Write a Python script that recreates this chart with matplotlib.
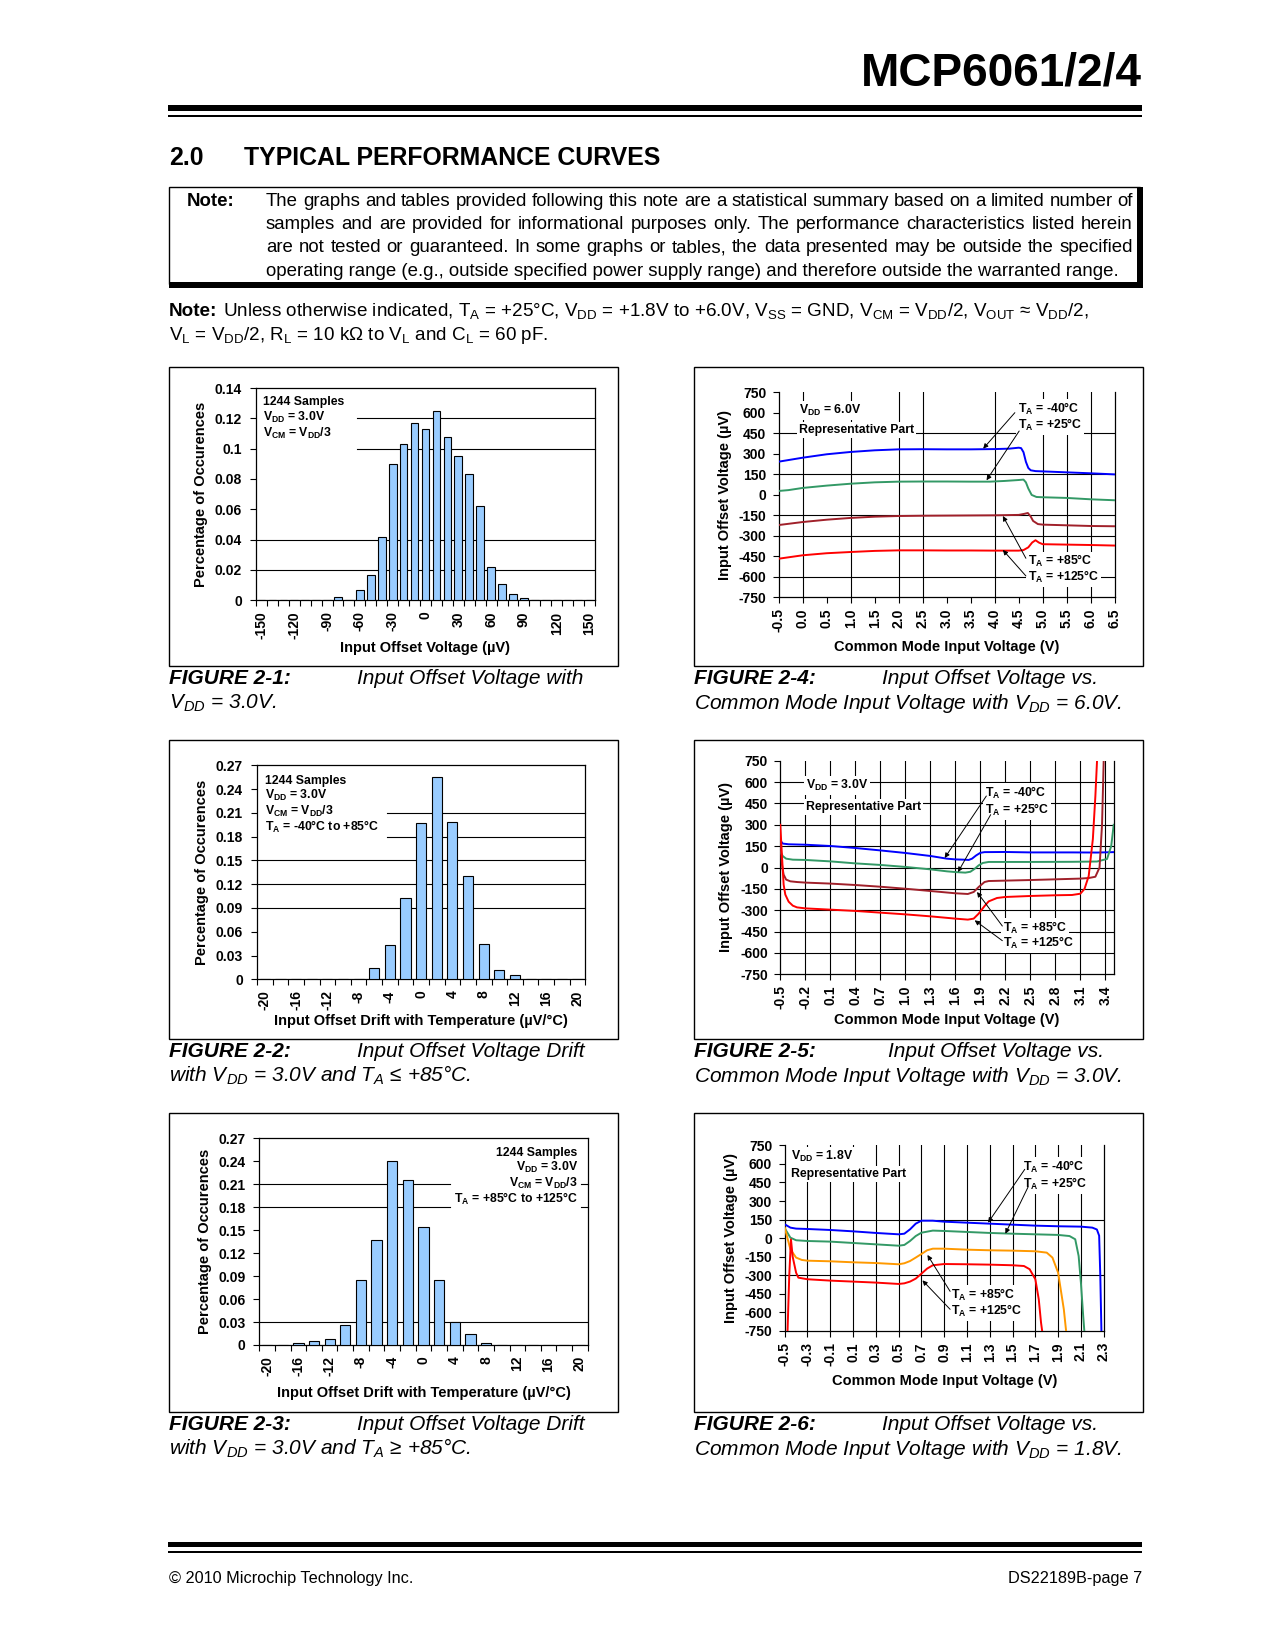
import numpy as np
import matplotlib
matplotlib.use('Agg')
import matplotlib.pyplot as plt
from matplotlib.patches import Rectangle

plt.rcParams['font.family'] = ['Liberation Sans', 'DejaVu Sans']
plt.rcParams['mathtext.fontset'] = 'custom'
plt.rcParams['mathtext.rm'] = 'Liberation Sans'
plt.rcParams['mathtext.it'] = 'Liberation Sans:italic'
plt.rcParams['mathtext.bf'] = 'Liberation Sans:bold'
plt.rcParams['axes.unicode_minus'] = False
plt.rcParams['axes.linewidth'] = 0.9

# ======================= DATA =======================
# Figure 2-1 : histogram of input offset voltage
h1_bins = list(range(-150, 151, 10))
h1_vals = [0, 0, 0, 0, 0, 0, 0, 0.002, 0, 0.007, 0.0165, 0.042, 0.090, 0.103, 0.117,
           0.113, 0.125, 0.108, 0.095, 0.083, 0.062, 0.022, 0.0105, 0.004, 0.0015,
           0, 0, 0, 0, 0, 0]
h1_yticks = [0, 0.02, 0.04, 0.06, 0.08, 0.10, 0.12, 0.14]
h1_ylabels = ['0', '0.02', '0.04', '0.06', '0.08', '0.1', '0.12', '0.14']

# Figure 2-2 : drift histogram, TA <= +85C
h2_bins = list(range(-20, 21, 2))
h2_vals = [0, 0, 0, 0, 0, 0, 0, 0.014, 0.043, 0.102, 0.197, 0.255, 0.198, 0.130,
           0.044, 0.012, 0.005, 0, 0, 0, 0]
# Figure 2-3 : drift histogram, TA >= +85C
h3_bins = list(range(-20, 21, 2))
h3_vals = [0, 0, 0.003, 0.0057, 0.0078, 0.0265, 0.0848, 0.137, 0.240, 0.215, 0.154,
           0.085, 0.030, 0.0148, 0.003, 0, 0, 0, 0, 0, 0]
h23_yticks = [0, 0.03, 0.06, 0.09, 0.12, 0.15, 0.18, 0.21, 0.24, 0.27]
h23_ylabels = ['0', '0.03', '0.06', '0.09', '0.12', '0.15', '0.18', '0.21', '0.24', '0.27']

# Common-mode curves: y ticks (uV)
cm_yticks = [-750, -600, -450, -300, -150, 0, 150, 300, 450, 600, 750]

# Figure 2-4 : VDD = 6.0V
c4_xticks = [-0.5, 0.0, 0.5, 1.0, 1.5, 2.0, 2.5, 3.0, 3.5, 4.0, 4.5, 5.0, 5.5, 6.0, 6.5]
c4_blue_x = [-0.5, 0.0, 0.5, 1.0, 1.5, 2.0, 2.5, 3.0, 3.5, 4.0, 4.3, 4.5, 4.55, 4.6, 4.65, 4.7, 4.75, 4.85, 5.0, 5.5, 6.0, 6.5]
c4_blue_y = [241, 270, 295, 312, 324, 331, 332, 331, 331, 333, 336, 343, 340, 310, 240, 195, 178, 172, 170, 163, 156, 148]
c4_green_x = [-0.5, -0.3, 0.0, 0.5, 1.0, 1.5, 2.0, 2.5, 3.0, 3.5, 3.9, 4.2, 4.5, 4.6, 4.65, 4.7, 4.77, 4.87, 5.0, 5.5, 6.0, 6.5]
c4_green_y = [27, 33, 49, 66, 80, 90, 95, 96, 96, 95, 95, 100, 107, 110, 90, 45, -2, -17, -19, -24, -34, -41]
c4_dred_x = [-0.5, 0.0, 0.5, 1.0, 1.5, 2.0, 2.5, 3.0, 3.5, 4.0, 4.5, 4.62, 4.69, 4.75, 4.8, 4.9, 5.0, 5.5, 6.0, 6.5]
c4_dred_y = [-222, -200, -183, -170, -161, -156, -154, -153, -152, -151, -148, -140, -134, -160, -192, -215, -219, -224, -229, -231]
c4_red_x = [-0.5, 0.0, 0.5, 1.0, 1.5, 2.0, 2.5, 3.0, 3.5, 4.0, 4.5, 4.6, 4.7, 4.78, 4.85, 4.92, 5.0, 5.5, 6.0, 6.5]
c4_red_y = [-468, -443, -428, -419, -411, -407, -407, -408, -408, -409, -409, -405, -385, -350, -333, -350, -362, -365, -368, -372]

# Figure 2-5 : VDD = 3.0V
c5_xticks = [-0.5, -0.2, 0.1, 0.4, 0.7, 1.0, 1.3, 1.6, 1.9, 2.2, 2.5, 2.8, 3.1, 3.4]
c5_blue_x = [-0.5, -0.47, -0.4, -0.2, 0.1, 0.4, 0.7, 1.0, 1.3, 1.5, 1.6, 1.7, 1.76, 1.8, 1.85, 1.9, 1.95, 2.2, 2.5, 3.0, 3.3, 3.5]
c5_blue_y = [190, 168, 163, 160, 151, 137, 120, 102, 81, 62, 57, 55, 53, 62, 85, 103, 108, 109, 106, 106, 105, 108]
c5_green_x = [-0.5, -0.47, -0.43, -0.35, -0.2, 0.1, 0.4, 0.7, 1.0, 1.3, 1.5, 1.6, 1.72, 1.78, 1.83, 1.88, 1.93, 2.0, 2.5, 3.0, 3.3, 3.42, 3.47, 3.5]
c5_green_y = [110, 80, 62, 55, 53, 43, 29, 18, 4, -13, -27, -32, -36, -30, -10, 15, 32, 39, 39, 40, 42, 60, 150, 300]
c5_dred_x = [-0.5, -0.48, -0.46, -0.43, -0.38, -0.3, -0.2, 0.1, 0.4, 0.7, 1.0, 1.3, 1.6, 1.75, 1.82, 1.88, 1.95, 2.0, 2.5, 2.8, 3.1, 3.2, 3.28, 3.33, 3.36, 3.38]
c5_dred_y = [200, 20, -50, -85, -97, -102, -106, -113, -123, -135, -149, -165, -181, -186, -172, -137, -102, -95, -88, -83, -78, -74, -65, 0, 300, 750]
c5_red_x = [-0.5, -0.48, -0.46, -0.44, -0.4, -0.35, -0.3, -0.2, 0.1, 0.4, 0.7, 1.0, 1.3, 1.6, 1.75, 1.82, 1.88, 1.95, 2.0, 2.1, 2.2, 2.5, 2.8, 3.0, 3.1, 3.15, 3.2, 3.25, 3.28, 3.3]
c5_red_y = [300, 80, -120, -190, -240, -268, -280, -287, -296, -305, -317, -329, -343, -359, -366, -359, -324, -271, -238, -214, -207, -200, -195, -193, -184, -150, -60, 200, 500, 750]

# Figure 2-6 : VDD = 1.8V
c6_xticks = [-0.5, -0.3, -0.1, 0.1, 0.3, 0.5, 0.7, 0.9, 1.1, 1.3, 1.5, 1.7, 1.9, 2.1, 2.3]
c6_blue_x = [-0.5, -0.45, -0.4, -0.3, -0.1, 0.1, 0.3, 0.5, 0.55, 0.6, 0.65, 0.7, 0.8, 0.9, 1.1, 1.3, 1.5, 1.7, 1.9, 2.1, 2.2, 2.24, 2.26, 2.27, 2.28]
c6_blue_y = [112, 85, 77, 74, 66, 55, 42, 31, 36, 71, 117, 141, 141, 133, 125, 117, 109, 101, 96, 93, 85, 70, 20, -300, -750]
c6_green_x = [-0.5, -0.45, -0.4, -0.3, -0.1, 0.1, 0.3, 0.5, 0.55, 0.6, 0.65, 0.7, 0.8, 0.9, 1.1, 1.3, 1.5, 1.7, 1.9, 2.0, 2.05, 2.08, 2.1, 2.12, 2.13]
c6_green_y = [80, 4, -17, -23, -28, -39, -50, -61, -55, -23, 17, 44, 61, 58, 50, 42, 36, 31, 26, 17, -9, -144, -360, -629, -750]
c6_orange_x = [-0.5, -0.45, -0.4, -0.35, -0.3, -0.1, 0.1, 0.3, 0.5, 0.55, 0.6, 0.65, 0.7, 0.75, 0.8, 0.9, 1.1, 1.3, 1.5, 1.7, 1.8, 1.85, 1.9, 1.95, 1.97]
c6_orange_y = [85, -90, -157, -176, -182, -187, -195, -201, -211, -203, -185, -157, -128, -98, -85, -85, -93, -98, -101, -106, -117, -157, -279, -575, -750]
c6_red_x = [-0.475, -0.46, -0.445, -0.43, -0.4, -0.38, -0.3, -0.1, 0.1, 0.3, 0.5, 0.55, 0.6, 0.65, 0.7, 0.75, 0.8, 0.9, 1.1, 1.3, 1.5, 1.6, 1.65, 1.7, 1.73, 1.75, 1.76]
c6_red_y = [-750, -300, -10, -150, -279, -319, -332, -343, -351, -359, -370, -365, -351, -327, -287, -246, -219, -209, -211, -214, -219, -225, -251, -332, -494, -683, -750]

# ======================= STYLE / LAYOUT =======================
BLUE, GREEN, DRED, RED, ORANGE = '#0000FF', '#339966', '#A0202A', '#FF0000', '#FF9900'
BARC = '#99CCFF'
W, H = 1275, 1650
fig = plt.figure(figsize=(W / 100, H / 100), dpi=100)
fig.patch.set_facecolor('white')
renderer = fig.canvas.get_renderer()


def fx(x):
    return x / W


def fy(y):
    return 1 - y / H


def ftext(x, y, s, **kw):
    return fig.text(fx(x), fy(y), s, **kw)


def frect(l, t, r, b, **kw):
    fig.add_artist(Rectangle((fx(l), fy(b)), (r - l) / W, (b - t) / H,
                             transform=fig.transFigure, **kw))


def add_ax(l, t, r, b):
    return fig.add_axes([fx(l), fy(b), (r - l) / W, (b - t) / H])


def measure(s, **kw):
    t = fig.text(0, 0, s, **kw)
    w = t.get_window_extent(renderer).width
    t.remove()
    return w


# ---------------- header ----------------
fs_h = 30 * 280 / measure('MCP6061/2/4', fontsize=30, fontweight='bold')
ftext(1142, 85, 'MCP6061/2/4', fontsize=fs_h, fontweight='bold', ha='right', va='baseline')
frect(168, 105, 1142, 111, fc='black', ec='none')
frect(168, 115, 1142, 117, fc='black', ec='none')

fs_t = 18 * 416 / measure('TYPICAL PERFORMANCE CURVES', fontsize=18, fontweight='bold')
ftext(169, 165, '2.0', fontsize=fs_t, fontweight='bold', va='baseline')
ftext(244, 165, 'TYPICAL PERFORMANCE CURVES', fontsize=fs_t, fontweight='bold', va='baseline')

# ---------------- note box ----------------
frect(169, 187, 1140, 284, fill=False, ec='black', lw=1)
frect(1137, 187, 1143, 288, fc='black', ec='none')
frect(169, 282, 1143, 288, fc='black', ec='none')

para = ["The graphs and tables provided following this note are a statistical summary based on a limited number of",
        "samples and are provided for informational purposes only. The performance characteristics listed herein",
        "are not tested or guaranteed. In some graphs or tables, the data presented may be outside the specified",
        "operating range (e.g., outside specified power supply range) and therefore outside the warranted range."]
fs_n = 12 * (1121.5 - 266) / measure(para[3], fontsize=12)
base = [206, 229.2, 252.4, 275.6]
ftext(187, base[0], 'Note:', fontsize=fs_n, fontweight='bold', va='baseline')
for i, line in enumerate(para):
    if i < 3:
        ws = line.split()
        ts = [ftext(0, base[i], w, fontsize=fs_n, va='baseline') for w in ws]
        wd = [t.get_window_extent(renderer).width for t in ts]
        gap = (1133 - 266 - sum(wd)) / (len(ws) - 1)
        x = 266
        for t, w in zip(ts, wd):
            t.set_x(fx(x))
            x += w + gap
    else:
        ftext(266, base[i], line, fontsize=fs_n, va='baseline')

note2a = (r'Unless otherwise indicated, T$_\mathrm{A}$ = +25°C, V$_\mathrm{DD}$ = +1.8V to +6.0V, '
          r'V$_\mathrm{SS}$ = GND, V$_\mathrm{CM}$ = V$_\mathrm{DD}$/2, V$_\mathrm{OUT}$ ≈ V$_\mathrm{DD}$/2,')
note2b = r'V$_\mathrm{L}$ = V$_\mathrm{DD}$/2, R$_\mathrm{L}$ = 10 kΩ to V$_\mathrm{L}$ and C$_\mathrm{L}$ = 60 pF.'
fs_n2 = fs_n
wtot = measure('Note: ', fontsize=fs_n, fontweight='bold') + measure(note2a, fontsize=fs_n)
fs_n2 = min(fs_n * (1089 - 169) / wtot, fs_n * 1.03)
wn = measure('Note: ', fontsize=fs_n2, fontweight='bold')
ftext(169, 316, 'Note:', fontsize=fs_n2, fontweight='bold', va='baseline')
ftext(169 + wn, 316, note2a, fontsize=fs_n2, va='baseline')
ftext(169, 340, note2b, fontsize=fs_n2, va='baseline')

# ---------------- chart frames and captions ----------------
LCOL, RCOL = 169, 694
ROWS = [(367, 666), (740, 1039), (1113, 1412)]
for (t, b) in ROWS:
    frect(LCOL, t, 618, b, fill=False, ec='black', lw=1)
    frect(RCOL, t, 1143, b, fill=False, ec='black', lw=1)

CAP = 15
caps = [
    (LCOL, 357, ROWS[0][1], 'FIGURE 2-1:', 'Input Offset Voltage with', r'V$_{\mathit{DD}}$ = 3.0V.'),
    (LCOL, 357, ROWS[1][1], 'FIGURE 2-2:', 'Input Offset Voltage Drift', r'with V$_{\mathit{DD}}$ = 3.0V and T$_{\mathit{A}}$ ≤ +85°C.'),
    (LCOL, 357, ROWS[2][1], 'FIGURE 2-3:', 'Input Offset Voltage Drift', r'with V$_{\mathit{DD}}$ = 3.0V and T$_{\mathit{A}}$ ≥ +85°C.'),
    (RCOL, 882, ROWS[0][1], 'FIGURE 2-4:', 'Input Offset Voltage vs.', r'Common Mode Input Voltage with V$_{\mathit{DD}}$ = 6.0V.'),
    (RCOL, 888, ROWS[1][1], 'FIGURE 2-5:', 'Input Offset Voltage vs.', r'Common Mode Input Voltage with V$_{\mathit{DD}}$ = 3.0V.'),
    (RCOL, 882, ROWS[2][1], 'FIGURE 2-6:', 'Input Offset Voltage vs.', r'Common Mode Input Voltage with V$_{\mathit{DD}}$ = 1.8V.'),
]
for x0, x1, b, f, l1, l2 in caps:
    ftext(x0, b + 18, f, fontsize=CAP, fontweight='bold', style='italic', va='baseline')
    ftext(x1, b + 18, l1, fontsize=CAP, style='italic', va='baseline')
    ftext(x0, b + 43, l2, fontsize=CAP, style='italic', va='baseline')

# ---------------- footer ----------------
frect(168, 1542, 1142, 1547, fc='black', ec='none')
frect(168, 1551, 1142, 1553, fc='black', ec='none')
ftext(169, 1583, '© 2010 Microchip Technology Inc.', fontsize=11.7, va='baseline')
ftext(1142, 1583, 'DS22189B-page 7', fontsize=11.7, va='baseline', ha='right')

TICKFS = 10
LABFS = 10.5
ANFS = 8.8


# ---------------- histograms ----------------
def hist_chart(rect, bins, vals, ymax, yticks, ylabels, step, barw, full_grid, part_grid):
    l, t, r, b = rect
    ax = add_ax(l, t, r, b)
    n = len(bins)
    idx = np.arange(n)
    ax.bar(idx, vals, width=barw, color=BARC, edgecolor='black', linewidth=0.8, zorder=3)
    ax.set_xlim(-0.5, n - 0.5)
    ax.set_ylim(0, ymax)
    ax.set_xticks(np.arange(n + 1) - 0.5)
    ax.set_xticklabels([])
    ax.set_xticks(idx[::step], minor=True)
    ax.set_xticklabels([str(v) for v in bins[::step]], minor=True, rotation=90,
                       fontsize=TICKFS, fontweight='bold')
    ax.tick_params(axis='x', which='major', direction='out', length=4, width=0.8)
    ax.tick_params(axis='x', which='minor', length=0, pad=8)
    ax.set_yticks(yticks)
    ax.set_yticklabels(ylabels, fontsize=TICKFS, fontweight='bold')
    ax.tick_params(axis='y', direction='out', length=4, width=0.8, pad=6)

    def px2i(px):
        return -0.5 + (px - l) / (r - l) * n
    for g in full_grid:
        ax.axhline(g, color='black', lw=0.8, zorder=1)
    for g, p0, p1 in part_grid:
        ax.plot([px2i(p0), px2i(p1)], [g, g], color='black', lw=0.8, zorder=1, clip_on=False)
    return ax


hist_chart((256, 388, 595, 600.3), h1_bins, h1_vals, 0.14, h1_yticks, h1_ylabels, 3, 0.70,
           [0.02, 0.04], [(0.10, 357, 595), (0.12, 357, 595)])
hist_chart((257, 765.3, 585.3, 979.3), h2_bins, h2_vals, 0.27, h23_yticks, h23_ylabels, 2, 0.65,
           [0.09, 0.12, 0.15], [(0.18, 387, 585.3), (0.21, 387, 585.3)])
hist_chart((259.3, 1138.3, 587.7, 1345), h3_bins, h3_vals, 0.27, h23_yticks, h23_ylabels, 2, 0.66,
           [0.03], [(0.18, 259.3, 450), (0.21, 259.3, 450), (0.18, 581, 587.7), (0.21, 581, 587.7)])


# histogram annotation text
def note_lines(x, ys, lines, ha='left'):
    for y, s in zip(ys, lines):
        ftext(x, y + 4.3, s, fontsize=ANFS, fontweight='bold', va='baseline', ha=ha)


note_lines(263, [400.3, 416.3, 433], ['1244 Samples', r'V$_\mathbf{DD}$ = 3.0V',
                                        r'V$_\mathbf{CM}$ = V$_\mathbf{DD}$/3'])
note_lines(265, [779.7, 794.7, 810.3, 826.5], ['1244 Samples', r'V$_\mathbf{DD}$ = 3.0V',
                                                r'V$_\mathbf{CM}$ = V$_\mathbf{DD}$/3',
                                                r'T$_\mathbf{A}$ = -40°C to +85°C'])
note_lines(577.7, [1152, 1167, 1183, 1199], ['1244 Samples', r'V$_\mathbf{DD}$ = 3.0V',
                                              r'V$_\mathbf{CM}$ = V$_\mathbf{DD}$/3',
                                              r'T$_\mathbf{A}$ = +85°C to +125°C'], ha='right')

# histogram axis labels
for (xl, t, b) in [(201.5, 388, 600.3), (202, 765.3, 979.3), (205.5, 1138.3, 1345)]:
    ftext(xl, (t + b) / 2, 'Percentage of Occurences', fontsize=LABFS, fontweight='bold',
          rotation=90, ha='center', va='center')
ftext(425.5, 648, 'Input Offset Voltage (µV)', fontsize=LABFS, fontweight='bold', ha='center', va='center')
ftext(421, 1020.5, 'Input Offset Drift with Temperature (µV/°C)', fontsize=LABFS, fontweight='bold',
      ha='center', va='center')
ftext(423.5, 1392.5, 'Input Offset Drift with Temperature (µV/°C)', fontsize=LABFS, fontweight='bold',
      ha='center', va='center')


# ---------------- common mode curves ----------------
def curve_chart(rect, xlim, xticks, vgrid, hgrid):
    ax = add_ax(*rect)
    ax.set_xlim(*xlim)
    ax.set_ylim(-750, 750)
    ax.set_xticks(xticks)
    ax.set_xticklabels(['%.1f' % v for v in xticks], rotation=90, fontsize=TICKFS, fontweight='bold')
    ax.set_yticks(cm_yticks)
    ax.set_yticklabels([str(v) for v in cm_yticks], fontsize=TICKFS, fontweight='bold')
    ax.tick_params(direction='out', length=4, width=0.8, pad=4)
    ax.tick_params(axis='y', pad=5)
    for v in vgrid:
        ax.axvline(v, color='black', lw=0.8, zorder=1)
    for h in hgrid:
        ax.axhline(h, color='black', lw=0.8, zorder=1)
    ax.spines['top'].set_visible(False)
    return ax


def atext(ax, x, y, s, ha='left'):
    ax.annotate(s, (x, y), xytext=(0, -3.1), textcoords='offset points', va='baseline', ha=ha,
                fontsize=ANFS, fontweight='bold', zorder=6,
                bbox=dict(boxstyle='square,pad=0.15', fc='white', ec='none'))


def arrow(ax, tail, head):
    ax.annotate('', xy=head, xytext=tail, zorder=7,
                arrowprops=dict(arrowstyle='-|>', color='black', lw=0.7, mutation_scale=7,
                                shrinkA=0, shrinkB=0))


LW = 1.4
# Figure 2-4
ax4 = curve_chart((778.7, 392, 1114.7, 597.3), (-0.5, 6.5), c4_xticks,
                  [0.0, 1.0, 2.0, 2.5, 4.0, 5.0, 5.5, 6.0], [450, 150, -150, -300, -600])
ax4.plot(c4_blue_x, c4_blue_y, color=BLUE, lw=LW, zorder=4)
ax4.plot(c4_green_x, c4_green_y, color=GREEN, lw=LW, zorder=4)
ax4.plot(c4_dred_x, c4_dred_y, color=DRED, lw=LW, zorder=4)
ax4.plot(c4_red_x, c4_red_y, color=RED, lw=LW, zorder=4)
atext(ax4, -0.076, 623, r'V$_\mathbf{DD}$ = 6.0V')
atext(ax4, -0.076, 482, 'Representative Part')
atext(ax4, 4.48, 628, r'T$_\mathbf{A}$ = -40°C')
atext(ax4, 4.48, 510, r'T$_\mathbf{A}$ = +25°C')
atext(ax4, 4.69, -485, r'T$_\mathbf{A}$ = +85°C')
atext(ax4, 4.69, -601, r'T$_\mathbf{A}$ = +125°C')
arrow(ax4, (4.42, 599), (3.76, 336))
arrow(ax4, (4.51, 465), (3.83, 105))
arrow(ax4, (4.65, -465), (4.17, -156))
arrow(ax4, (4.65, -594), (4.17, -404))

# Figure 2-5
ax5 = curve_chart((780.3, 760.7, 1113.7, 974.3), (-0.5, 3.5), c5_xticks,
                  c5_xticks[1:], [600, 450, 300, 150, 0, -150, -300, -450, -600])
ax5.plot(c5_blue_x, c5_blue_y, color=BLUE, lw=LW, zorder=4)
ax5.plot(c5_green_x, c5_green_y, color=GREEN, lw=LW, zorder=4)
ax5.plot(c5_dred_x, c5_dred_y, color=DRED, lw=LW, zorder=4)
ax5.plot(c5_red_x, c5_red_y, color=RED, lw=LW, zorder=4)
atext(ax5, -0.188, 581, r'V$_\mathbf{DD}$ = 3.0V')
atext(ax5, -0.188, 432, 'Representative Part')
atext(ax5, 1.952, 525, r'T$_\mathbf{A}$ = -40°C')
atext(ax5, 1.952, 408, r'T$_\mathbf{A}$ = +25°C')
atext(ax5, 2.172, -425, r'T$_\mathbf{A}$ = +85°C')
atext(ax5, 2.172, -530, r'T$_\mathbf{A}$ = +125°C')
arrow(ax5, (1.972, 502), (1.472, 67))
arrow(ax5, (2.024, 371), (1.632, -32))
arrow(ax5, (2.164, -411), (1.86, -172))
arrow(ax5, (2.164, -514), (1.832, -371))

# Figure 2-6
ax6 = curve_chart((784.7, 1145.3, 1103.7, 1331), (-0.5, 2.3), c6_xticks,
                  c6_xticks[1:-1], [150, -300])
ax6.plot(c6_blue_x, c6_blue_y, color=BLUE, lw=LW, zorder=4)
ax6.plot(c6_green_x, c6_green_y, color=GREEN, lw=LW, zorder=4)
ax6.plot(c6_orange_x, c6_orange_y, color=ORANGE, lw=LW, zorder=4)
ax6.plot(c6_red_x, c6_red_y, color=RED, lw=LW, zorder=4)
atext(ax6, -0.447, 669, r'V$_\mathbf{DD}$ = 1.8V')
atext(ax6, -0.447, 529, 'Representative Part')
atext(ax6, 1.592, 578, r'T$_\mathbf{A}$ = -40°C')
atext(ax6, 1.592, 440, r'T$_\mathbf{A}$ = +25°C')
atext(ax6, 0.957, -454, r'T$_\mathbf{A}$ = +85°C')
atext(ax6, 0.957, -588, r'T$_\mathbf{A}$ = +125°C')
arrow(ax6, (1.607, 556), (1.285, 125))
arrow(ax6, (1.636, 413), (1.437, 36))
arrow(ax6, (0.952, -430), (0.753, -136))
arrow(ax6, (0.952, -575), (0.709, -341))

# axis labels for curve charts
for xl, (t, b), (l, r), yl in [(724.7, (392, 597.3), (778.7, 1114.7), 647.5),
                               (726.3, (760.7, 974.3), (780.3, 1113.7), 1020),
                               (730.7, (1145.3, 1331), (784.7, 1103.7), 1380.5)]:
    ftext(xl, (t + b) / 2, 'Input Offset Voltage (µV)', fontsize=LABFS, fontweight='bold',
          rotation=90, ha='center', va='center')
    ftext((l + r) / 2, yl, 'Common Mode Input Voltage (V)', fontsize=LABFS, fontweight='bold',
          ha='center', va='center')

fig.savefig('out.png', dpi=100, facecolor='white')
